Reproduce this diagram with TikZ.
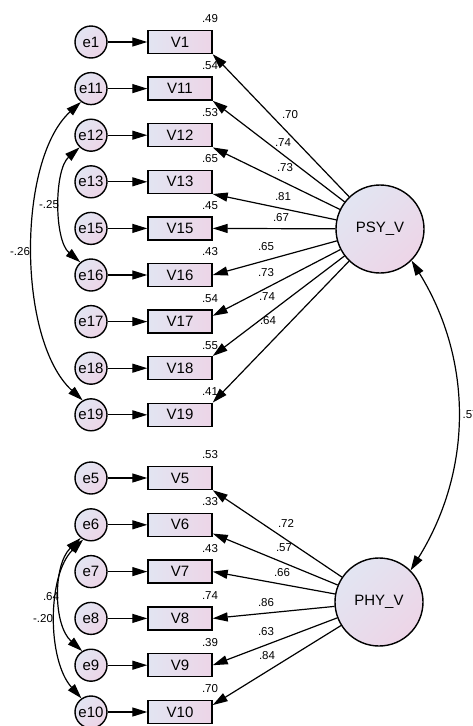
\documentclass[tikz,border=0pt]{standalone}
\usepackage{fontspec}
\setmainfont{Liberation Sans}
\usetikzlibrary{arrows.meta}
\definecolor{semblue}{RGB}{226,229,242}
\definecolor{sempink}{RGB}{237,213,231}
\tikzset{
  err/.style={circle,draw,line width=1.4pt,minimum size=32pt,inner sep=0pt,
    top color=semblue,bottom color=sempink,shading angle=45,font=\fontsize{15}{18}\selectfont},
  obs/.style={rectangle,draw,line width=1.4pt,minimum width=64pt,minimum height=23pt,inner sep=0pt,
    left color=semblue,right color=sempink,font=\fontsize{15}{18}\selectfont},
  lat/.style={circle,draw,line width=1.4pt,minimum size=88pt,inner sep=0pt,
    top color=semblue,bottom color=sempink,shading angle=45,font=\fontsize{15}{18}\selectfont},
  lbl/.style={font=\fontsize{11.5}{13}\selectfont,inner sep=0pt}
}
\begin{document}
\begin{tikzpicture}[x=1pt,y=-1pt,>={Triangle[length=15pt,width=9pt]},line width=1.2pt]
\useasboundingbox (0,0) rectangle (473,726);
% indicators and errors, PSY_V
\node[err] (e1) at (91,42) {e1};
\node[obs] (v1) at (180,42) {V1};
\node[err] (e11) at (91,88.6) {e11};
\node[obs] (v11) at (180,88.6) {V11};
\node[err] (e12) at (91,135.2) {e12};
\node[obs] (v12) at (180,135.2) {V12};
\node[err] (e13) at (91,181.8) {e13};
\node[obs] (v13) at (180,181.8) {V13};
\node[err] (e15) at (91,228.4) {e15};
\node[obs] (v15) at (180,228.4) {V15};
\node[err] (e16) at (91,275) {e16};
\node[obs] (v16) at (180,275) {V16};
\node[err] (e17) at (91,321.6) {e17};
\node[obs] (v17) at (180,321.6) {V17};
\node[err] (e18) at (91,368.2) {e18};
\node[obs] (v18) at (180,368.2) {V18};
\node[err] (e19) at (91,414.8) {e19};
\node[obs] (v19) at (180,414.8) {V19};
% indicators and errors, PHY_V
\node[err] (e5) at (91,478) {e5};
\node[obs] (v5) at (180,478) {V5};
\node[err] (e6) at (91,524.8) {e6};
\node[obs] (v6) at (180,524.8) {V6};
\node[err] (e7) at (91,571.6) {e7};
\node[obs] (v7) at (180,571.6) {V7};
\node[err] (e8) at (91,618.4) {e8};
\node[obs] (v8) at (180,618.4) {V8};
\node[err] (e9) at (91,665.2) {e9};
\node[obs] (v9) at (180,665.2) {V9};
\node[err] (e10) at (91,712) {e10};
\node[obs] (v10) at (180,712) {V10};
\node[lat] (psy) at (380,229) {PSY\_V};
\node[lat] (phy) at (379,602) {PHY\_V};
% squared multiple correlations
\node[lbl] (r1) at (210,19) {.49};
\node[lbl] (r11) at (210,65.6) {.54};
\node[lbl] (r12) at (210,112.2) {.53};
\node[lbl] (r13) at (210,158.8) {.65};
\node[lbl] (r15) at (210,205.4) {.45};
\node[lbl] (r16) at (210,252) {.43};
\node[lbl] (r17) at (210,298.6) {.54};
\node[lbl] (r18) at (210,345.2) {.55};
\node[lbl] (r19) at (210,391.8) {.41};
\node[lbl] (r5) at (210,455) {.53};
\node[lbl] (r6) at (210,501.8) {.33};
\node[lbl] (r7) at (210,548.6) {.43};
\node[lbl] (r8) at (210,595.4) {.74};
\node[lbl] (r9) at (210,642.2) {.39};
\node[lbl] (r10) at (210,689) {.70};
% error paths
\draw[->] (e1) -- (v1);
\draw[->] (e11) -- (v11);
\draw[->] (e12) -- (v12);
\draw[->] (e13) -- (v13);
\draw[->] (e15) -- (v15);
\draw[->] (e16) -- (v16);
\draw[->] (e17) -- (v17);
\draw[->] (e18) -- (v18);
\draw[->] (e19) -- (v19);
\draw[->] (e5) -- (v5);
\draw[->] (e6) -- (v6);
\draw[->] (e7) -- (v7);
\draw[->] (e8) -- (v8);
\draw[->] (e9) -- (v9);
\draw[->] (e10) -- (v10);
% loadings
\draw[->] (psy) -- (v1.south east);
\draw[->] (psy) -- (v11.south east);
\draw[->] (psy) -- (v12.south east);
\draw[->] (psy) -- (v13.south east);
\draw[->] (psy) -- (v15.east);
\draw[->] (psy) -- (v16.east);
\draw[->] (psy) -- (v17.10);
\draw[->] (psy) -- (v18.north east);
\draw[->] (psy) -- (v19.north east);
\draw[->] (phy) -- (v5.south east);
\draw[->] (phy) -- (v6.-15);
\draw[->] (phy) -- (v7.east);
\draw[->] (phy) -- (v8.east);
\draw[->] (phy) -- (v9.east);
\draw[->] (phy) -- (v10.12);
\node[lbl] (l1) at (290,115) {.70};
\node[lbl] (l11) at (283,143) {.74};
\node[lbl] (l12) at (285,168) {.73};
\node[lbl] (l13) at (283,197) {.81};
\node[lbl] (l15) at (281,218) {.67};
\node[lbl] (l16) at (266,247) {.65};
\node[lbl] (l17) at (266,273) {.73};
\node[lbl] (l18) at (267,297) {.74};
\node[lbl] (l19) at (268,321) {.64};
\node[lbl] (l5) at (286,523) {.72};
\node[lbl] (l6) at (284,548) {.57};
\node[lbl] (l7) at (282,573) {.66};
\node[lbl] (l8) at (266,603) {.86};
\node[lbl] (l9) at (266,632) {.63};
\node[lbl] (l10) at (267,656) {.84};
% covariances
\draw[<->] (e11.233) .. controls (17,160) and (17,340) .. (e19.120);
\node[lbl] (c1) at (20,252) {-.26};
\draw[<->] (e12.227) .. controls (54,170) and (54,240) .. (e16.130);
\node[lbl] (c2) at (49,205) {-.25};
\draw[<->] (e6.232) .. controls (53,565) and (53,625) .. (e9.122);
\node[lbl] (c3) at (51,597) {.64};
\draw[<->] (e6.242) .. controls (47,575) and (47,660) .. (e10.125);
\node[lbl] (c4) at (43,619) {-.20};
\draw[<->] (psy.-45) .. controls (473,360) and (473,470) .. (phy.45);
\node[lbl,anchor=west] (c5) at (462,415) {.57};
\end{tikzpicture}
\end{document}
